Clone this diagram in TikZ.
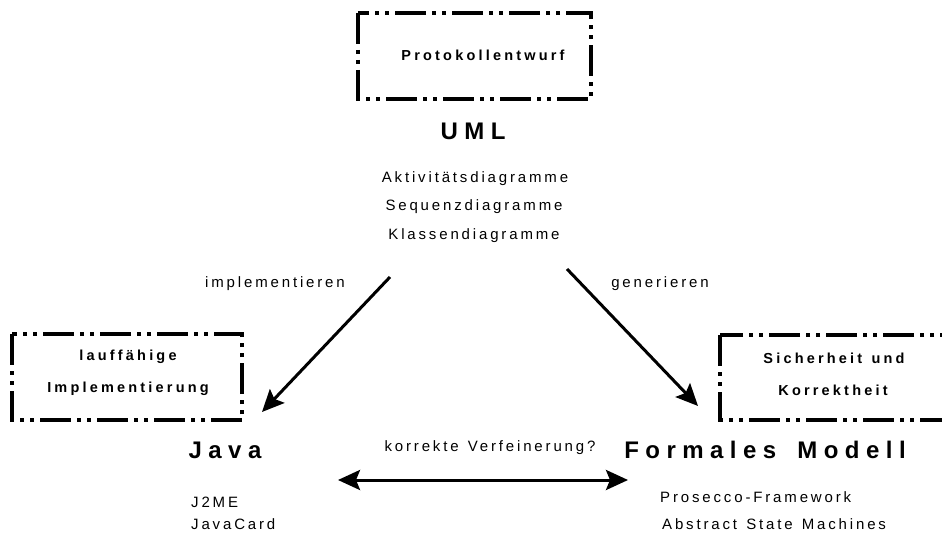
\documentclass[tikz,border=0pt]{standalone}
\usepackage{fontspec}
\setmainfont{Liberation Sans}
\newfontfamily\plainsp[LetterSpace=19,WordSpace=1.3]{Liberation Sans}
\newfontfamily\boldsp[LetterSpace=22,WordSpace=1.3]{Liberation Sans Bold}
\newfontfamily\headsp[LetterSpace=27,WordSpace=1.6]{Liberation Sans Bold}
\usetikzlibrary{arrows.meta}
\tikzset{
  x=1pt, y=-1pt,
  notebox/.style={draw, line width=3.2pt,
    dash pattern=on 31pt off 6pt on 4pt off 6pt on 4pt off 6pt},
  boxtext/.style={font=\boldsp\fontsize{14.5}{17}\selectfont, inner sep=0pt},
  heading/.style={font=\headsp\fontsize{24}{28}\selectfont, inner sep=0pt},
  item/.style={font=\plainsp\fontsize{15}{18}\selectfont, inner sep=0pt},
  arrowline/.style={line width=3pt,
    -{Stealth[length=22pt,width=20pt,inset=4pt]}},
  twoway/.style={line width=3pt,
    {Stealth[length=22pt,width=20pt,inset=4pt]}-{Stealth[length=22pt,width=20pt,inset=4pt]}},
}
\begin{document}
\begin{tikzpicture}
\useasboundingbox (0,0) rectangle (942,537);

% note boxes
\draw[notebox] (358,13) rectangle (591,99);
\draw[notebox] (12,334) rectangle (242,420);
\draw[notebox] (720,335) rectangle (960,420);

\node[boxtext] (proto) at (483,55) {Protokollentwurf};
\node[boxtext] (lauf) at (128,357) {lauffähige};
\node[boxtext] (impl) at (128,389) {Implementierung};
\node[boxtext] (sich) at (834,358) {Sicherheit und};
\node[boxtext] (korr) at (833,390) {Korrektheit};

% UML
\node[heading] (uml) at (473,131) {UML};
\node[item] (akt) at (475,179) {Aktivitätsdiagramme};
\node[item] (seq) at (474,207) {Sequenzdiagramme};
\node[item] (kla) at (474,236) {Klassendiagramme};

% Java
\node[heading] (java) at (225,450) {Java};
\node[item, anchor=west] (j2me) at (191,502) {J2ME};
\node[item, anchor=west] (jcard) at (191,524) {JavaCard};

% formal model
\node[heading] (form) at (765,450) {Formales Modell};
\node[item, anchor=west] (pros) at (660,497) {Prosecco-Framework};
\node[item, anchor=west] (asm) at (662,524) {Abstract State Machines};

% relations
\node[item] (implab) at (275,284) {implementieren};
\node[item] (genlab) at (660,284) {generieren};
\node[item] (verf) at (490,448) {korrekte Verfeinerung?};

\coordinate (lstart) at (390,277);
\coordinate (lend) at (262,412);
\coordinate (rstart) at (567,269);
\coordinate (rend) at (698,406);
\coordinate (hleft) at (338,480);
\coordinate (hright) at (628,480);

\draw[arrowline] (lstart) -- (lend);
\draw[arrowline] (rstart) -- (rend);
\draw[twoway] (hleft) -- (hright);
\end{tikzpicture}
\end{document}
